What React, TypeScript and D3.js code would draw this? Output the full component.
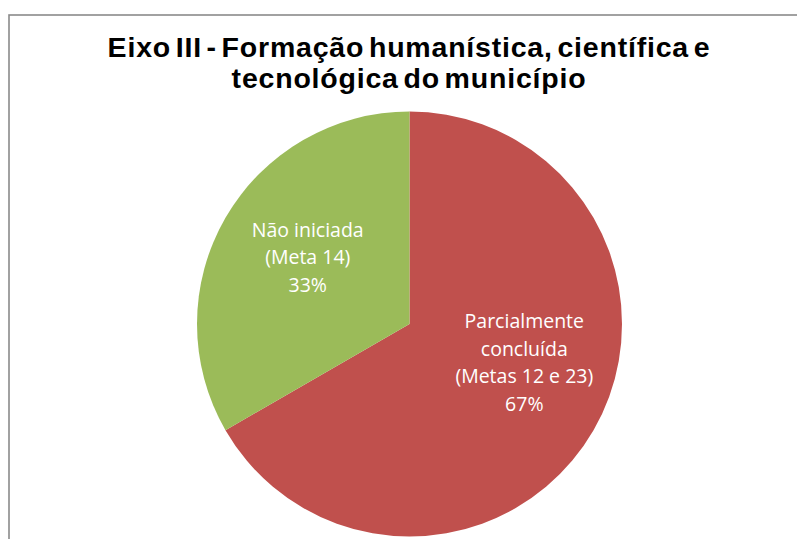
import React from "react";
import * as d3 from "d3";

const categories = ["Parcialmente concluída", "Não iniciada"];
const labelLines = [
  ["Parcialmente", "concluída", "(Metas 12 e 23)", "67%"],
  ["Não iniciada", "(Meta 14)", "33%"],
];
const values = [2, 1];
const colors = ["#C0504D", "#9BBB59"];
const titleLines = ["Eixo III - Formação humanística, científica e", "tecnológica do município"];

const W = 797;
const H = 539;

export default function App() {
  const cx = 409.5;
  const cy = 324;
  const R = 212.5;
  const pie = d3.pie<number>().sort(null).value((d) => d);
  const arcs = pie(values);
  const arc = d3.arc<d3.PieArcDatum<number>>().innerRadius(0).outerRadius(R);
  const labelArc = d3.arc<d3.PieArcDatum<number>>().innerRadius(121).outerRadius(121);
  const offsets = [
    [10, -22],
    [3, -6],
  ];
  const lineH = 27.5;
  return (
    <svg
      width={W}
      height={H}
      style={{ position: "absolute", left: 0, top: 0, background: "#fff" }}
    >
      <rect x={9} y={15} width={W + 20} height={H + 20} fill="#fff" stroke="#8a8a8a" strokeWidth={1.6} />
      {titleLines.map((t, i) => (
        <text
          key={i}
          x={409}
          y={57 + i * 31}
          textAnchor="middle"
          fontFamily="Liberation Sans, Arial, sans-serif"
          fontWeight="bold"
          fontSize={28.5}
          letterSpacing={0.8}
          wordSpacing={-4}
          fill="#000"
        >
          {t}
        </text>
      ))}
      <g transform={`translate(${cx},${cy})`}>
        {arcs.map((a, i) => (
          <path key={categories[i]} d={arc(a) || ""} fill={colors[i]} />
        ))}
        {arcs.map((a, i) => {
          const [lx, ly] = labelArc.centroid(a);
          const lines = labelLines[i];
          const x = lx + offsets[i][0];
          const y0 = ly + offsets[i][1] - ((lines.length - 1) * lineH) / 2;
          return (
            <text
              key={"l" + i}
              textAnchor="middle"
              fontFamily="Open Sans, Noto Sans, sans-serif"
              fontSize={19.5}
              fill="#fff"
            >
              {lines.map((ln, j) => (
                <tspan key={j} x={x} y={y0 + j * lineH} dy="0.35em">
                  {ln}
                </tspan>
              ))}
            </text>
          );
        })}
      </g>
    </svg>
  );
}
